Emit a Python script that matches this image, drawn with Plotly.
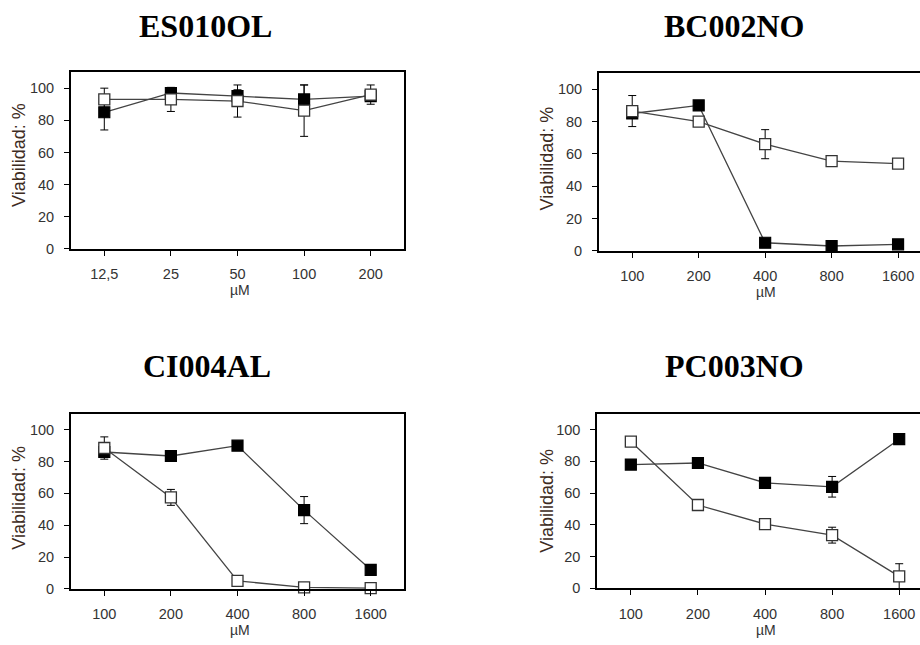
import plotly.graph_objects as go

W, H = 920, 645

# ---------------- data ----------------
titles = ["ES010OL", "BC002NO", "CI004AL", "PC003NO"]
x_es = ["12,5", "25", "50", "100", "200"]
x_hi = ["100", "200", "400", "800", "1600"]

es_fill = [85, 97, 95, 93, 95]
es_fill_err = [11, 2, 4, 9, 3]
es_open = [93, 93, 92, 86, 96]
es_open_err = [7, 7.5, 10, 16, 6]

bc_fill = [85, 90, 5, 3, 4]
bc_fill_err = [3, 2, 1, 1, 1]
bc_open = [86.5, 80, 66, 55.5, 54]
bc_open_err = [9.6, 3, 9, 1, 1]

ci_fill = [86, 83.5, 90, 49.5, 12]
ci_fill_err = [3, 2, 1, 8.5, 1]
ci_open = [88.5, 57.5, 5, 1, 0.5]
ci_open_err = [7, 5, 1, 0.5, 0.5]

pc_fill = [78, 79, 66.5, 64, 94]
pc_fill_err = [2, 3, 2, 6.5, 2.5]
pc_open = [92.5, 52.5, 40.5, 33.5, 7.5]
pc_open_err = [1, 1, 3, 5, 8]

y_ticks = [0, 20, 40, 60, 80, 100]

panels = [
    (x_es, es_fill, es_fill_err, es_open, es_open_err),
    (x_hi, bc_fill, bc_fill_err, bc_open, bc_open_err),
    (x_hi, ci_fill, ci_fill_err, ci_open, ci_open_err),
    (x_hi, pc_fill, pc_fill_err, pc_open, pc_open_err),
]

# ---------------- layout geometry (pixels) ----------------
geo = [
    (71, 404, 73, 252, 4.5, True),
    (599, 920, 74, 254, 4.33, False),
    (71, 404, 419, 596.3, 4.5, True),
    (597.3, 920, 419, 595.7, 4.31, False),
]
title_pos = [(205.5, 26), (734, 26), (207, 371), (734.5, 371)]
ytitle_pos = [(19, 157), (547.5, 161), (19, 504), (547, 507)]
xtitle_pos = [(240, 294), (766, 296), (240, 638), (766, 638)]

def px(x):
    return x / W

def py(y):
    return 1 - y / H

fig = go.Figure()
line_col = "#444444"
tick_col = "#333333"

for i, (xs, yf, ef, yo, eo) in enumerate(panels):
    n = "" if i == 0 else str(i + 1)
    xa, ya = "x" + n, "y" + n
    fig.add_trace(go.Scatter(
        x=xs, y=yf, xaxis=xa, yaxis=ya, mode="lines+markers",
        line=dict(color=line_col, width=1.3),
        marker=dict(symbol="square", size=11, color="black",
                    line=dict(color="black", width=1.2)),
        error_y=dict(type="data", array=ef, visible=True, color="black",
                     thickness=1, width=4),
        showlegend=False, cliponaxis=False))
    fig.add_trace(go.Scatter(
        x=xs, y=yo, xaxis=xa, yaxis=ya, mode="lines+markers",
        line=dict(color=line_col, width=1.3),
        marker=dict(symbol="square", size=11, color="white",
                    line=dict(color="#333333", width=1.3)),
        error_y=dict(type="data", array=eo, visible=True, color="black",
                     thickness=1, width=4),
        showlegend=False, cliponaxis=False))

    l, r, t, b, xend, mir = geo[i]
    xkey = "xaxis" + n
    ykey = "yaxis" + n
    fig.update_layout(**{
        xkey: dict(domain=[px(l), px(r)], anchor=ya, type="category",
                   range=[-0.5, xend], showline=True, linecolor="black",
                   linewidth=2, mirror=True, ticks="outside", ticklen=5,
                   tickcolor="black", tickwidth=1, showgrid=False,
                   zeroline=False, ticklabelstandoff=6,
                   tickfont=dict(family="Liberation Sans", size=14.5,
                                 color=tick_col)),
        ykey: dict(domain=[py(b), py(t)], anchor=xa, range=[0, 110],
                   tickvals=y_ticks, showline=True, linecolor="black",
                   linewidth=2, mirror=mir, ticks="outside", ticklen=5,
                   tickcolor="black", tickwidth=1, showgrid=False,
                   zeroline=False, ticklabelstandoff=7,
                   tickfont=dict(family="Liberation Sans", size=14.5,
                                 color=tick_col)),
    })

annotations = []
for i, t in enumerate(titles):
    x, y = title_pos[i]
    annotations.append(dict(text="<b>%s</b>" % t, x=px(x), y=py(y),
                            xref="paper", yref="paper", showarrow=False,
                            xanchor="center", yanchor="middle",
                            font=dict(family="Liberation Serif", size=32,
                                      color="black")))
    x, y = ytitle_pos[i]
    annotations.append(dict(text="Viabilidad: %", x=px(x), y=py(y),
                            xref="paper", yref="paper", showarrow=False,
                            textangle=-90, xanchor="center", yanchor="middle",
                            font=dict(family="Liberation Sans", size=18,
                                      color="#3d2b22")))
    x, y = xtitle_pos[i]
    annotations.append(dict(text="µM", x=px(x), y=py(y),
                            xref="paper", yref="paper", showarrow=False,
                            xanchor="center", yanchor="middle",
                            font=dict(family="Liberation Sans", size=14,
                                      color=tick_col)))

fig.update_layout(width=W, height=H, margin=dict(l=0, r=0, t=0, b=0),
                  paper_bgcolor="white", plot_bgcolor="white",
                  annotations=annotations)

fig.write_html("out.html")
